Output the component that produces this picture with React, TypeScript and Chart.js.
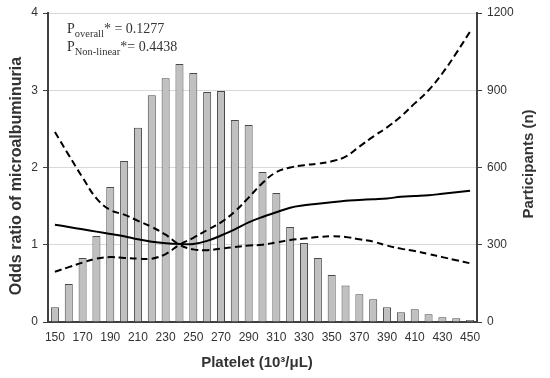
import React, { useEffect, useRef } from 'react';
import { Chart, registerables } from 'chart.js';

Chart.register(...registerables);

// Platelet categories (10^3/µL)
const plateletLabels = [
  '150', '160', '170', '180', '190', '200', '210', '220', '230', '240', '250',
  '260', '270', '280', '290', '300', '310', '320', '330', '340', '350',
  '360', '370', '380', '390', '400', '410', '420', '430', '440', '450',
];

// Participants per platelet bin (right axis)
const participants = [
  57, 148, 249, 334, 524, 625, 754, 881, 947, 1002, 967,
  893, 897, 784, 765, 583, 501, 369, 307, 249, 183,
  142, 108, 88, 57, 38, 50, 30, 18, 15, 8,
];

// Odds ratio curve (left axis)
const oddsRatio = [
  1.26, 1.23, 1.20, 1.17, 1.14, 1.11, 1.07, 1.04, 1.02, 1.01, 1.01,
  1.05, 1.12, 1.20, 1.29, 1.36, 1.42, 1.48, 1.51, 1.53, 1.55,
  1.57, 1.58, 1.59, 1.60, 1.62, 1.63, 1.64, 1.66, 1.68, 1.70,
];

// Confidence band line starting high on the left, ending low on the right
const ciLineA = [
  2.46, 2.16, 1.87, 1.60, 1.45, 1.39, 1.31, 1.23, 1.13, 1.00, 0.94,
  0.93, 0.95, 0.97, 0.99, 1.00, 1.03, 1.06, 1.08, 1.10, 1.11,
  1.10, 1.07, 1.04, 0.99, 0.95, 0.92, 0.88, 0.84, 0.80, 0.76,
];

// Confidence band line starting low on the left, ending high on the right
const ciLineB = [
  0.65, 0.71, 0.77, 0.82, 0.84, 0.83, 0.82, 0.82, 0.88, 1.00, 1.09,
  1.19, 1.29, 1.43, 1.61, 1.80, 1.94, 2.00, 2.03, 2.05, 2.08,
  2.14, 2.27, 2.40, 2.52, 2.66, 2.83, 3.00, 3.22, 3.48, 3.76,
];

const pOverall = '0.1277';
const pNonLinear = '0.4438';

const SANS = '"Liberation Sans", Arial, sans-serif';
const SERIF = '"Liberation Serif", "Times New Roman", serif';
const TEXT = '#333333';
const AXIS = '#404040';

const textPlugin = {
  id: 'textPlugin',
  afterDraw(chart: any) {
    const ctx = chart.ctx as CanvasRenderingContext2D;
    ctx.save();
    ctx.fillStyle = TEXT;
    ctx.textBaseline = 'alphabetic';
    ctx.textAlign = 'left';

    // P annotations
    const drawP = (sub: string, star: string, rest: string, x: number, y: number) => {
      let cx = x;
      ctx.font = `14px ${SERIF}`;
      ctx.fillText('P', cx, y);
      cx += ctx.measureText('P').width;
      ctx.font = `10.5px ${SERIF}`;
      ctx.fillText(sub, cx, y + 3.5);
      cx += ctx.measureText(sub).width;
      ctx.font = `14px ${SERIF}`;
      ctx.fillText(star + rest, cx, y);
    };
    drawP('overall', '*', ' = ' + pOverall, 67, 33);
    drawP('Non-linear', '*', '= ' + pNonLinear, 67, 51);

    // Axis titles
    ctx.textAlign = 'center';
    ctx.textBaseline = 'middle';
    ctx.font = `bold 16px ${SANS}`;
    ctx.save();
    ctx.translate(17, 176);
    ctx.rotate(-Math.PI / 2);
    ctx.fillText('Odds ratio of microalbuminuria', 0, 0);
    ctx.restore();

    ctx.font = `bold 15px ${SANS}`;
    ctx.save();
    ctx.translate(529, 164);
    ctx.rotate(-Math.PI / 2);
    ctx.fillText('Participants (n)', 0, 0);
    ctx.restore();

    ctx.font = `bold 15px ${SANS}`;
    ctx.fillText('Platelet (10\u00B3/\u03BCL)', 257, 363);
    ctx.restore();
  },
};

export default function App() {
  const ref = useRef<HTMLCanvasElement | null>(null);

  useEffect(() => {
    if (!ref.current) return;
    const chart = new Chart(ref.current, {
      type: 'bar',
      data: {
        labels: plateletLabels,
        datasets: [
          {
            type: 'line',
            data: oddsRatio,
            yAxisID: 'y',
            borderColor: '#000000',
            borderWidth: 2,
            pointRadius: 0,
            tension: 0.4,
            fill: false,
            order: 1,
          } as any,
          {
            type: 'line',
            data: ciLineA,
            yAxisID: 'y',
            borderColor: '#000000',
            borderWidth: 2,
            borderDash: [7, 4],
            pointRadius: 0,
            tension: 0.4,
            fill: false,
            order: 1,
          } as any,
          {
            type: 'line',
            data: ciLineB,
            yAxisID: 'y',
            borderColor: '#000000',
            borderWidth: 2,
            borderDash: [7, 4],
            pointRadius: 0,
            tension: 0.4,
            fill: false,
            order: 1,
          } as any,
          {
            type: 'bar',
            data: participants,
            yAxisID: 'y2',
            backgroundColor: '#c0c0c0',
            borderColor: '#4a4a4a',
            borderWidth: 1,
            barPercentage: 0.58,
            categoryPercentage: 1,
            order: 3,
          } as any,
        ],
      },
      options: {
        responsive: false,
        animation: false,
        devicePixelRatio: 1,
        layout: { padding: { top: 13, left: 0, right: 0, bottom: 0 } },
        plugins: {
          legend: { display: false },
          tooltip: { enabled: false },
        },
        scales: {
          x: {
            type: 'category',
            offset: true,
            grid: { display: false, drawTicks: false },
            border: { color: AXIS, width: 2 },
            ticks: {
              autoSkip: false,
              maxRotation: 0,
              minRotation: 0,
              padding: 8,
              color: TEXT,
              font: { size: 12, family: SANS },
              callback: (_v: any, i: number) => (i % 2 === 0 ? plateletLabels[i] : ''),
            },
            afterFit: (s: any) => {
              s.height = 56;
            },
          },
          y: {
            position: 'left',
            min: 0,
            max: 4,
            ticks: {
              stepSize: 1,
              padding: 5,
              color: TEXT,
              font: { size: 12, family: SANS },
              callback: (v: any) => String(v),
            },
            grid: {
              color: (c: any) => (c.tick && c.tick.value === 0 ? 'rgba(0,0,0,0)' : '#d9d9d9'),
              tickColor: AXIS,
              tickLength: 5,
              drawTicks: true,
            },
            border: { color: AXIS, width: 2 },
            afterFit: (s: any) => {
              s.width = 48;
            },
          },
          y2: {
            position: 'right',
            min: 0,
            max: 1200,
            ticks: {
              stepSize: 300,
              padding: 5,
              color: TEXT,
              font: { size: 12, family: SANS },
              callback: (v: any) => String(v),
            },
            grid: {
              drawOnChartArea: false,
              tickColor: AXIS,
              tickLength: 5,
              drawTicks: true,
            },
            border: { color: AXIS, width: 2 },
            afterFit: (s: any) => {
              s.width = 73;
            },
          },
        },
      } as any,
      plugins: [textPlugin],
    });
    return () => chart.destroy();
  }, []);

  return (
    <div style={{ position: 'absolute', left: 0, top: 0, width: 550, height: 378, background: '#ffffff' }}>
      <canvas ref={ref} width={550} height={378} style={{ display: 'block' }} />
    </div>
  );
}
